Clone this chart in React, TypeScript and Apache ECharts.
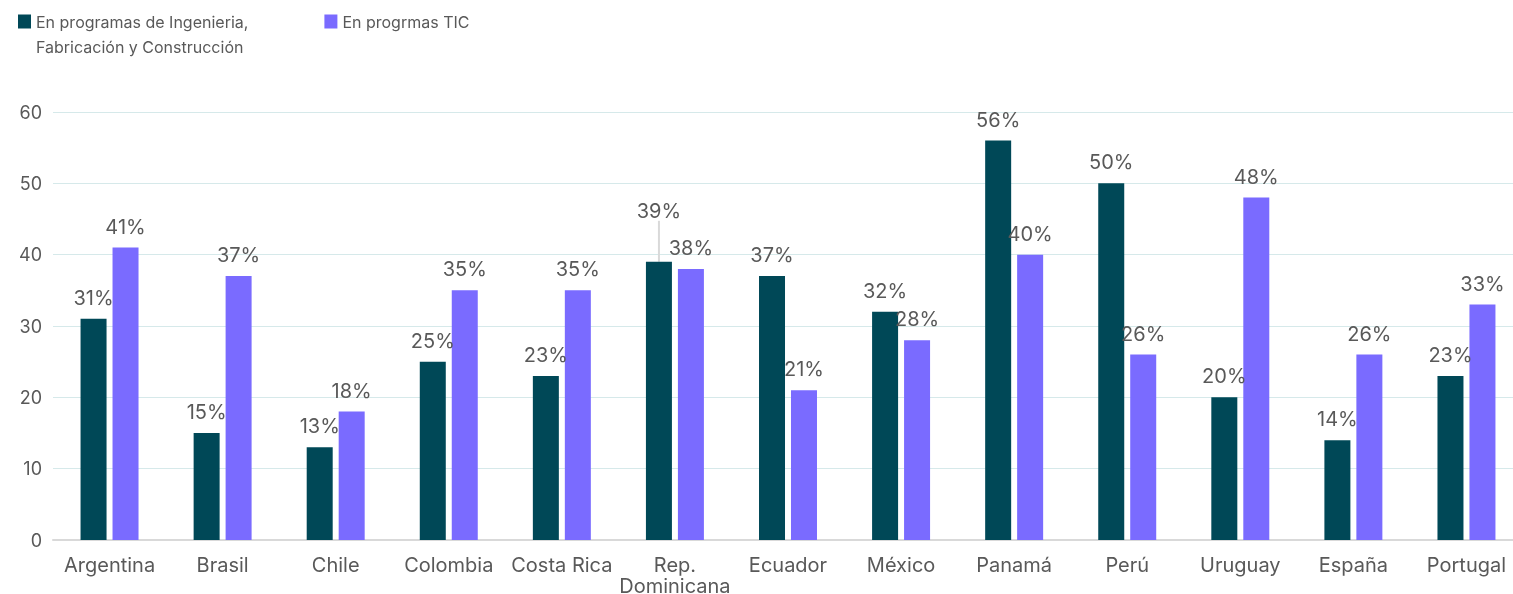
import React, { useEffect, useRef } from "react";
import * as echarts from "echarts";

const categories = ["Argentina", "Brasil", "Chile", "Colombia", "Costa Rica", "Rep.\nDominicana", "Ecuador", "México", "Panamá", "Perú", "Uruguay", "España", "Portugal"];
const ingenieria = [31, 15, 13, 25, 23, 39, 37, 32, 56, 50, 20, 14, 23];
const tic = [41, 37, 18, 35, 35, 38, 21, 28, 40, 26, 48, 26, 33];
const seriesNames = ["En programas de Ingenieria, Fabricación y Construcción", "En progrmas TIC"];
const yTicks = { min: 0, max: 60, interval: 10 };
const raisedLabelIndex = 5;

const FONT = "Inter, Roboto, sans-serif";
const TEXT = "#595959";

export default function App() {
  const ref = useRef<HTMLDivElement>(null);
  useEffect(() => {
    if (!ref.current) return;
    const chart = echarts.init(ref.current, undefined, { renderer: "svg" });
    const label = {
      show: true,
      position: "top" as const,
      distance: 11,
      formatter: "{c}%",
      color: TEXT,
      fontSize: 20,
      fontFamily: FONT,
    };
    chart.setOption({
      animation: false,
      textStyle: { fontFamily: FONT },
      legend: {
        left: 13,
        top: -21,
        itemWidth: 13,
        itemHeight: 14,
        itemGap: 76,
        icon: "rect",
        textStyle: { color: TEXT, fontSize: 16, fontFamily: FONT, lineHeight: 25 },
        formatter: (n: string) =>
          n.indexOf("Ingenieria, ") >= 0 ? " \n" + n.replace("Ingenieria, ", "Ingenieria,\n") : " \n" + n + "\n ",
        data: seriesNames,
      },
      grid: { left: 53, right: -10, top: 112, bottom: 54, containLabel: false, outerBoundsMode: "none" },
      xAxis: {
        type: "category",
        data: categories,
        axisTick: { show: false },
        axisLine: { lineStyle: { color: "#d9d9d9", width: 2 } },
        axisLabel: { color: TEXT, fontSize: 20, fontFamily: FONT, margin: 14, lineHeight: 21, interval: 0 },
      },
      yAxis: {
        type: "value",
        ...yTicks,
        axisLabel: { color: TEXT, fontSize: 18, fontFamily: FONT, margin: 11 },
        splitLine: { lineStyle: { color: "#d6e9ea", width: 1 } },
        axisLine: { show: false },
        axisTick: { show: false },
      },
      series: [
        {
          name: seriesNames[0],
          type: "bar",
          data: ingenieria.map((v, i) =>
            i === raisedLabelIndex
              ? { value: v, labelLine: { show: true, lineStyle: { color: "#d9d9d9", width: 2 } } }
              : { value: v, labelLine: { show: false } }
          ),
          barWidth: 26,
          barGap: "23%",
          itemStyle: { color: "#004857" },
          label,
          labelLayout: (p: any) => (p.dataIndex === raisedLabelIndex ? { dy: -30 } : {}),
          labelLine: { show: false },
        },
        {
          name: seriesNames[1],
          type: "bar",
          data: tic,
          barWidth: 26,
          itemStyle: { color: "#7a6bff" },
          label,
        },
      ],
    });
    return () => chart.dispose();
  }, []);
  return <div ref={ref} style={{ position: "fixed", left: 0, top: 0, width: 1513, height: 594 }} />;
}
